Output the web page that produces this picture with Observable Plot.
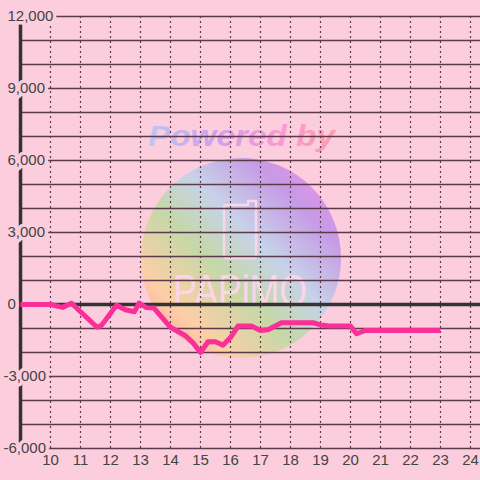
<!DOCTYPE html>
<html><head><meta charset="utf-8">
<script src="https://cdn.jsdelivr.net/npm/d3@7"></script>
<script src="https://cdn.jsdelivr.net/npm/@observablehq/plot@0.6"></script>
<style>html,body{margin:0;padding:0;background:#fccddc;} #chart{width:480px;height:480px;}</style>
</head><body><div id="chart"></div>
<script>
// Data (hour of day, value)
const hours  = [9.0, 10.0, 10.4, 10.7, 11.55, 11.7, 12.2, 12.5, 12.8, 12.95, 13.2, 13.45, 14.0, 14.5, 14.75, 15.0, 15.25, 15.5, 15.75, 16.0, 16.25, 16.7, 17.0, 17.25, 17.7, 18.75, 19.0, 19.3, 20.0, 20.2, 20.5, 23.0];
const values = [0, 0, -120, 50, -950, -870, -30, -220, -300, 60, -130, -150, -950, -1300, -1600, -2000, -1550, -1550, -1700, -1380, -900, -900, -1080, -1050, -760, -760, -850, -900, -900, -1220, -1080, -1080];
const xTicks = [10, 11, 12, 13, 14, 15, 16, 17, 18, 19, 20, 21, 22, 23, 24];
const yTicks = [-6000, -3000, 0, 3000, 6000, 9000, 12000];
const yGrid  = [-6000, -5000, -4000, -3000, -2000, -1000, 0, 1000, 2000, 3000, 4000, 5000, 6000, 7000, 8000, 9000, 10000, 11000, 12000];

const bg = "#fccddc";
const gridColor = "#5b3b4b";
const data = hours.map((h, i) => ({h, v: values[i]}));
const fmt = d => d.toLocaleString("en-US");
const labelStyle = {frameAnchor: "left", y: d => d, text: fmt, textAnchor: "start", fill: "#444", fontSize: 15,
  stroke: bg, strokeWidth: 7, strokeLinejoin: "round", paintOrder: "stroke"};

const plot = Plot.plot({
  width: 480, height: 480,
  marginLeft: 20, marginRight: 0, marginTop: 16, marginBottom: 32,
  style: {background: bg, fontFamily: "'Liberation Sans', Arial, sans-serif", overflow: "visible"},
  x: {domain: [9, 24 + 1/3], label: null, axis: null},
  y: {domain: [-6000, 12000], label: null, axis: null},
  marks: [
    Plot.ruleY(yGrid, {stroke: gridColor, strokeWidth: 1.3}),
    Plot.ruleX(xTicks, {y1: -6000, y2: 12000, stroke: gridColor, strokeWidth: 1.2, strokeDasharray: "2,3"}),
    Plot.ruleX([9], {y1: -6000, y2: 12000, stroke: "#333", strokeWidth: 3.5}),
    Plot.ruleY([0], {stroke: "#333", strokeWidth: 3.5}),
    Plot.line(data, {x: "h", y: "v", stroke: "#fa2f98", strokeWidth: 5, strokeLinejoin: "round", strokeLinecap: "butt"}),
    Plot.text(yTicks.filter(v => v >= 0), {...labelStyle, dx: -13}),
    Plot.text(yTicks.filter(v => v < 0), {...labelStyle, dx: -17}),
    Plot.axisX(xTicks, {tickSize: 0, tickPadding: 6, fontSize: 15, fill: "#444", tickFormat: d => String(d), label: null})
  ]
});

// decorative watermark behind the chart
const svg = d3.select(plot);
const wm = svg.insert("g", ":first-child").attr("text-anchor", "start");
const defs = wm.append("defs");
const g1 = defs.append("linearGradient").attr("id", "wmg").attr("x1", 0).attr("y1", 1).attr("x2", 1).attr("y2", 0);
[[0, "#f89aa6"], [0.22, "#fdcfa6"], [0.42, "#c4d8a8"], [0.58, "#c6d3e8"], [0.78, "#c69ae6"], [1, "#fe8fe6"]]
  .forEach(([o, c]) => g1.append("stop").attr("offset", o).attr("stop-color", c));
const g2 = defs.append("linearGradient").attr("id", "wmt").attr("x1", 0).attr("y1", 0).attr("x2", 1).attr("y2", 0);
[[0, "#b6c8f2"], [0.35, "#cb9af2"], [0.7, "#fd94d4"], [1, "#ff96a6"]]
  .forEach(([o, c]) => g2.append("stop").attr("offset", o).attr("stop-color", c));
wm.append("circle").attr("cx", 241).attr("cy", 258).attr("r", 100).attr("fill", "url(#wmg)");
wm.append("text").attr("x", 148).attr("y", 146).attr("text-anchor", "start").attr("textLength", 187).attr("lengthAdjust", "spacingAndGlyphs")
  .attr("font-size", 30).attr("font-weight", "bold").attr("font-style", "italic")
  .attr("fill", "url(#wmt)").attr("opacity", 0.9).text("Powered by");
wm.append("path").attr("d", "M226,205 H248 V201 H256 V255 Q256,258 253,258 H227 Q224,258 224,255 V208 Q224,205 226,205 Z")
  .attr("fill", "none").attr("stroke", "#fcd6e6").attr("stroke-width", 2.5);
wm.append("text").attr("x", 173).attr("y", 306).attr("text-anchor", "start").attr("textLength", 134).attr("lengthAdjust", "spacingAndGlyphs")
  .attr("font-size", 44).attr("fill", "#fcd6e6").text("PAPiMO");

document.getElementById("chart").appendChild(plot);
</script>
</body></html>
